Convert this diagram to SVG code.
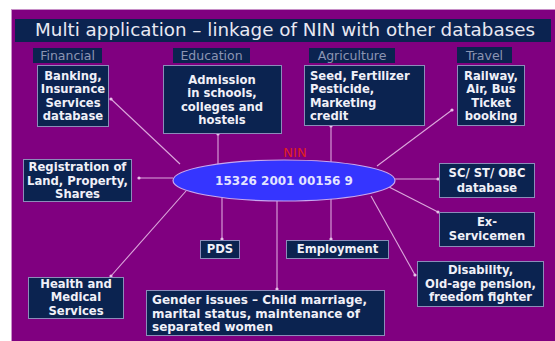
<svg xmlns="http://www.w3.org/2000/svg" width="555" height="341" viewBox="0 0 555 341">
<style>
.bg{fill:#800080;stroke:#c890c8;stroke-width:1}
.bar{fill:#0b2350}
.title{font-family:"DejaVu Sans",Verdana,sans-serif;font-size:17px;fill:#e8e8f2}
.cat{fill:#0b2350}
.catt{font-family:"DejaVu Sans",Verdana,sans-serif;font-size:12.5px;fill:#8c95b3;text-anchor:middle}
.box{fill:#0b2350;stroke:#8c8cba;stroke-width:1}
.bt{font-family:"DejaVu Sans",Verdana,sans-serif;font-weight:bold;font-size:11.6px;fill:#f0f0f8;text-anchor:middle}
.bl{text-anchor:start}
.con{stroke:#dca8dc;stroke-width:1.1;fill:none;marker-end:url(#dot)}
.ell{fill:#3535ff;stroke:#c8a8f0;stroke-width:1.2}
.num{font-family:"DejaVu Sans",Verdana,sans-serif;font-weight:bold;font-size:12px;fill:#e4e4ff;text-anchor:middle}
.nin{font-family:"DejaVu Sans",Verdana,sans-serif;font-size:13px;fill:#e02020;text-anchor:middle}
</style>
<defs>
<marker id="dot" markerUnits="userSpaceOnUse" markerWidth="5" markerHeight="5" refX="2.5" refY="2.5" viewBox="0 0 5 5">
<circle cx="2.5" cy="2.5" r="1.6" fill="#e8c0e8"/>
</marker>
</defs>
<rect x="0" y="0" width="555" height="341" fill="#ffffff"/>
<rect class="bg" x="11.5" y="9.5" width="545" height="334"/>
<g id="title">
<rect class="bar" x="15" y="19" width="536" height="23"/>
<text class="title" x="285" y="36" text-anchor="middle" textLength="500" lengthAdjust="spacingAndGlyphs">Multi application – linkage of NIN with other databases</text>
</g>
<g id="connectors">
<line class="con" x1="180" y1="164" x2="111" y2="99"/>
<line class="con" x1="218" y1="165" x2="218" y2="134"/>
<line class="con" x1="331" y1="162" x2="331" y2="126"/>
<line class="con" x1="377" y1="166" x2="452" y2="110"/>
<line class="con" x1="173" y1="178" x2="139" y2="178"/>
<line class="con" x1="395" y1="179" x2="438" y2="179"/>
<line class="con" x1="389" y1="187" x2="438" y2="212"/>
<line class="con" x1="371" y1="196" x2="415" y2="275"/>
<line class="con" x1="331" y1="199" x2="331" y2="239"/>
<line class="con" x1="222" y1="198" x2="222" y2="239"/>
<line class="con" x1="277" y1="201" x2="277" y2="289"/>
<line class="con" x1="186" y1="191" x2="111" y2="276"/>
</g>
<g id="cat-financial"><rect class="cat" x="33" y="48" width="69" height="15"/><text class="catt" x="67.5" y="60">Financial</text></g>
<g id="cat-education"><rect class="cat" x="173" y="48" width="77" height="15"/><text class="catt" x="211.5" y="60">Education</text></g>
<g id="cat-agriculture"><rect class="cat" x="309" y="48" width="86" height="15"/><text class="catt" x="352" y="60">Agriculture</text></g>
<g id="cat-travel"><rect class="cat" x="457" y="47" width="55" height="16"/><text class="catt" x="484.5" y="60">Travel</text></g>
<g id="banking">
<rect class="box" x="37.5" y="65.5" width="71" height="61"/>
<text class="bt" x="73" y="80">Banking,</text>
<text class="bt" x="73" y="93">Insurance</text>
<text class="bt" x="73" y="107">Services</text>
<text class="bt" x="73" y="120">database</text>
</g>
<g id="admission">
<rect class="box" x="163.5" y="65.5" width="118" height="68"/>
<text class="bt" x="222" y="84">Admission</text>
<text class="bt" x="222" y="97">in schools,</text>
<text class="bt" x="222" y="111">colleges and</text>
<text class="bt" x="222" y="124">hostels</text>
</g>
<g id="seed">
<rect class="box" x="304.5" y="65.5" width="120" height="60"/>
<text class="bt bl" x="310" y="80">Seed, Fertilizer</text>
<text class="bt bl" x="310" y="93">Pesticide,</text>
<text class="bt bl" x="310" y="107">Marketing</text>
<text class="bt bl" x="310" y="120">credit</text>
</g>
<g id="railway">
<rect class="box" x="457.5" y="65.5" width="67" height="60"/>
<text class="bt" x="491" y="80">Railway,</text>
<text class="bt" x="491" y="93">Air, Bus</text>
<text class="bt" x="491" y="107">Ticket</text>
<text class="bt" x="491" y="120">booking</text>
</g>
<g id="registration">
<rect class="box" x="23.5" y="159.5" width="108" height="42"/>
<text class="bt" x="77.5" y="171">Registration of</text>
<text class="bt" x="77.5" y="185">Land, Property,</text>
<text class="bt" x="77.5" y="198">Shares</text>
</g>
<g id="nin">
<text class="nin" x="295" y="157">NIN</text>
<ellipse class="ell" cx="284" cy="180.5" rx="111" ry="20.5"/>
<text class="num" x="284" y="184.5">15326 2001 00156 9</text>
</g>
<g id="scst">
<rect class="box" x="439.5" y="163.5" width="95" height="34"/>
<text class="bt" x="487" y="177">SC/ ST/ OBC</text>
<text class="bt" x="487" y="192">database</text>
</g>
<g id="exservicemen">
<rect class="box" x="439.5" y="212.5" width="95" height="34"/>
<text class="bt" x="487" y="226">Ex-</text>
<text class="bt" x="487" y="240">Servicemen</text>
</g>
<g id="disability">
<rect class="box" x="417.5" y="261.5" width="126" height="45"/>
<text class="bt" x="480.5" y="274">Disability,</text>
<text class="bt" x="480.5" y="288">Old-age pension,</text>
<text class="bt" x="480.5" y="301">freedom fighter</text>
</g>
<g id="pds">
<rect class="box" x="200.5" y="240.5" width="39" height="18"/>
<text class="bt" x="220" y="253">PDS</text>
</g>
<g id="employment">
<rect class="box" x="286.5" y="240.5" width="102" height="18"/>
<text class="bt" x="337.5" y="253">Employment</text>
</g>
<g id="health">
<rect class="box" x="28.5" y="277.5" width="95" height="41"/>
<text class="bt" x="76" y="288">Health and</text>
<text class="bt" x="76" y="301">Medical</text>
<text class="bt" x="76" y="315">Services</text>
</g>
<g id="gender">
<rect class="box" x="146.5" y="290.5" width="238" height="45"/>
<text class="bt bl" x="152" y="304" textLength="215" lengthAdjust="spacingAndGlyphs">Gender issues – Child marriage,</text>
<text class="bt bl" x="152" y="318" textLength="208" lengthAdjust="spacingAndGlyphs">marital status, maintenance of</text>
<text class="bt bl" x="152" y="331" textLength="121" lengthAdjust="spacingAndGlyphs">separated women</text>
</g>
</svg>
